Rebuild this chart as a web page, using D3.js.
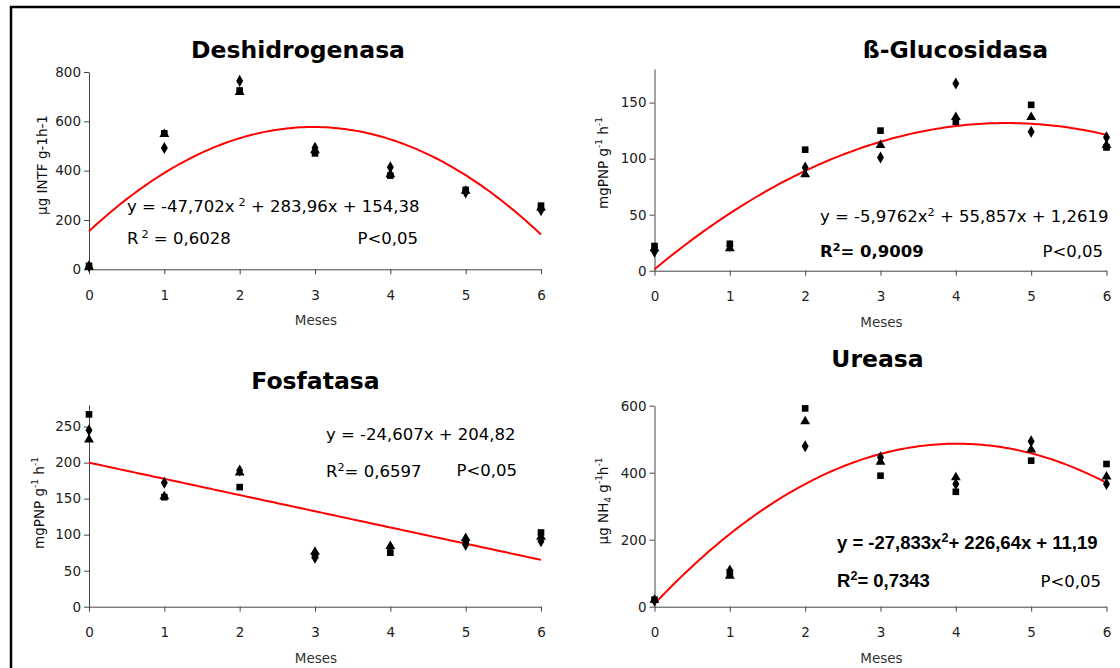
<!DOCTYPE html>
<html>
<head>
<meta charset="utf-8">
<script src="https://d3js.org/d3.v7.min.js"></script>
<style>
  body { margin: 0; background: #fff; }
  svg text { font-family: "DejaVu Sans", Verdana, sans-serif; }
  .axis path, .axis line { stroke: #444; }
  .axis text { font-size: 13.5px; fill: #222; }
</style>
</head>
<body>
<svg width="1120" height="668"></svg>
<script>
// months on the x axis
var months = [0, 1, 2, 3, 4, 5, 6];

// Deshidrogenasa (µg INTF g-1 h-1)
var desDiamond  = [12, 492, 764, 493, 414, 312, 240];
var desSquare   = [14, 551, 725, 470, 380, 322, 258];
var desTriangle = [10, 548, 718, 482, 385, 318, 250];
var desLine = [154.38, 283.96, -47.702];   // drawn trend: a + b x + c x^2
var desTicks = [0, 200, 400, 600, 800];

// ß-Glucosidasa (mgPNP g-1 h-1)
var gluDiamond  = [17, 22, 92, 101, 167, 124, 119];
var gluSquare   = [22, 24, 108, 125, 133, 148, 110];
var gluTriangle = [20, 20, 86, 112, 137, 137, 112];
var gluLine = [1.2619, 55.857, -5.9762];
var gluTicks = [0, 50, 100, 150];

// Fosfatasa (mgPNP g-1 h-1)
var fosDiamond  = [245, 172, 189, 68, 82, 86, 91];
var fosSquare   = [267, 152, 166, 71, 75, 90, 103];
var fosTriangle = [232, 153, 186, 76, 84, 95, 97];
var fosLine = [200, -22.5, 0];   // as drawn in the figure
var fosTicks = [0, 50, 100, 150, 200, 250];

// Ureasa (µg NH4 g-1 h-1)
var ureDiamond  = [18, 108, 479, 446, 366, 494, 366];
var ureSquare   = [21, 102, 592, 391, 343, 436, 426];
var ureTriangle = [20, 92, 553, 432, 386, 469, 388];
var ureLine = [8.6, 238, -29.63];   // as drawn in the figure
var ureTicks = [0, 200, 400, 600];

var svg = d3.select("svg");

// outer frame (only top and left edges are visible)
svg.append("path")
   .attr("d", "M11,672 V7 H1124")
   .attr("fill", "none")
   .attr("stroke", "#000")
   .attr("stroke-width", 2.5);

function panel(p) {
  var x = d3.scaleLinear().domain([0, 6]).range([p.left, p.left + 452]);
  var y = d3.scaleLinear().domain([0, p.max]).range([p.bottom, p.top]);
  var g = svg.append("g");

  g.append("g").attr("class", "axis")
   .attr("transform", "translate(" + p.left + ",0)")
   .call(d3.axisLeft(y).tickValues(p.ticks).tickSize(5).tickPadding(3).tickSizeOuter(0));

  g.append("g").attr("class", "axis")
   .attr("transform", "translate(0," + p.bottom + ")")
   .call(d3.axisBottom(x).tickValues(months).tickFormat(d3.format("d"))
     .tickSize(5).tickPadding(16).tickSizeOuter(0));

  // title
  g.append("text")
   .attr("x", p.titleX).attr("y", p.titleY)
   .attr("text-anchor", "middle")
   .attr("font-size", "23.5px").attr("font-weight", "bold")
   .text(p.title);

  // x label
  g.append("text")
   .attr("x", p.left + 227).attr("y", p.bottom + 56)
   .attr("text-anchor", "middle")
   .attr("font-size", "13.5px").attr("fill", "#333")
   .text("Meses");

  // y label, with sup / sub pieces
  var yl = g.append("text")
   .attr("transform", "translate(" + p.ylabX + "," + p.ylabY + ") rotate(-90)")
   .attr("text-anchor", "middle")
   .attr("font-size", "13.5px").attr("fill", "#111");
  var prev = "base";
  p.ylab.forEach(function (s) {
    var t = yl.append("tspan").text(s[0]);
    var dy = 0;
    if (prev === "sup") dy += 6;
    if (prev === "sub") dy -= 3;
    if (s[1] === "sup") dy -= 6;
    if (s[1] === "sub") dy += 3;
    if (s[1] !== "base") t.attr("font-size", "9px");
    t.attr("dy", dy);
    prev = s[1];
  });

  // trend line
  var c = p.line;
  var xs = d3.range(0, 6.0001, 0.05);
  g.append("path")
   .datum(xs)
   .attr("fill", "none")
   .attr("stroke", "#ff0000")
   .attr("stroke-width", 2)
   .attr("d", d3.line()
     .x(function (d) { return x(d); })
     .y(function (d) { return y(c[0] + c[1] * d + c[2] * d * d); }));

  // points
  var series = [
    [p.square, d3.symbolSquare, 44],
    [p.triangle, d3.symbolTriangle, 42],
    [p.diamond, d3.symbolDiamond, 42]
  ];
  series.forEach(function (s) {
    g.selectAll(null).data(s[0]).enter().append("path")
     .attr("transform", function (d, i) { return "translate(" + x(months[i]) + "," + y(d) + ")"; })
     .attr("d", d3.symbol().type(s[1]).size(s[2]))
     .attr("fill", "#000");
  });

  // equation + R2
  p.eq.forEach(function (line) {
    var t = g.append("text")
     .attr("x", line.x).attr("y", line.y)
     .attr("text-anchor", line.anchor || "start")
     .attr("font-size", line.size || "16.5px")
     .attr("font-weight", line.bold ? "bold" : "normal")
     .attr("fill", "#000");
    if (line.family) t.style("font-family", line.family);
    var up = false;
    line.parts.forEach(function (s) {
      var ts = t.append("tspan").text(s[0]);
      if (s[1] === "sup") {
        ts.attr("font-size", "0.68em").attr("dy", "-0.55em");
        if (s[2]) ts.attr("dx", s[2]);
        up = true;
      } else if (up) {
        ts.attr("dy", "0.374em");
        up = false;
      }
    });
  });
}

panel({
  title: "Deshidrogenasa", titleX: 298, titleY: 58,
  left: 89, bottom: 269.3, top: 72, max: 800, ticks: desTicks,
  diamond: desDiamond, square: desSquare, triangle: desTriangle, line: desLine,
  ylabX: 47, ylabY: 165,
  ylab: [["µg INTF g-1h-1", "base"]],
  eq: [
    { x: 127, y: 212, parts: [["y = -47,702x"], ["2", "sup", 4], [" + 283,96x + 154,38"]] },
    { x: 127, y: 244, parts: [["R"], ["2", "sup", 3], [" = 0,6028"]] },
    { x: 418, y: 244, anchor: "end", parts: [["P<0,05"]] }
  ]
});

panel({
  title: "ß-Glucosidasa", titleX: 955.5, titleY: 57.5,
  left: 654.5, bottom: 270.7, top: 69, max: 180, ticks: gluTicks,
  diamond: gluDiamond, square: gluSquare, triangle: gluTriangle, line: gluLine,
  ylabX: 608, ylabY: 163,
  ylab: [["mgPNP g", "base"], ["-1", "sup"], [" h", "base"], ["-1", "sup"]],
  eq: [
    { x: 820, y: 222, parts: [["y = -5,9762x"], ["2", "sup"], [" + 55,857x + 1,2619"]] },
    { x: 820, y: 257, bold: true, parts: [["R"], ["2", "sup"], ["= 0,9009"]] },
    { x: 1103, y: 257, anchor: "end", parts: [["P<0,05"]] }
  ]
});

panel({
  title: "Fosfatasa", titleX: 315.5, titleY: 389,
  left: 89, bottom: 606.7, top: 405, max: 280, ticks: fosTicks,
  diamond: fosDiamond, square: fosSquare, triangle: fosTriangle, line: fosLine,
  ylabX: 44, ylabY: 503,
  ylab: [["mgPNP g", "base"], ["-1", "sup"], [" h", "base"], ["-1", "sup"]],
  eq: [
    { x: 326, y: 440, parts: [["y = -24,607x + 204,82"]] },
    { x: 326, y: 477, parts: [["R"], ["2", "sup"], ["= 0,6597"]] },
    { x: 517, y: 476, anchor: "end", parts: [["P<0,05"]] }
  ]
});

panel({
  title: "Ureasa", titleX: 877.5, titleY: 367,
  left: 654.5, bottom: 606.7, top: 405.7, max: 600, ticks: ureTicks,
  diamond: ureDiamond, square: ureSquare, triangle: ureTriangle, line: ureLine,
  ylabX: 608, ylabY: 501,
  ylab: [["µg NH", "base"], ["4", "sub"], [" g", "base"], ["-1", "sup"], ["h", "base"], ["-1", "sup"]],
  eq: [
    { x: 837, y: 549, bold: true, size: "18.5px", family: "'Liberation Sans', Arial, sans-serif",
      parts: [["y = -27,833x"], ["2", "sup"], ["+ 226,64x + 11,19"]] },
    { x: 837, y: 587, bold: true, size: "18.5px", family: "'Liberation Sans', Arial, sans-serif",
      parts: [["R"], ["2", "sup"], ["= 0,7343"]] },
    { x: 1101, y: 587, anchor: "end", parts: [["P<0,05"]] }
  ]
});
</script>
</body>
</html>
